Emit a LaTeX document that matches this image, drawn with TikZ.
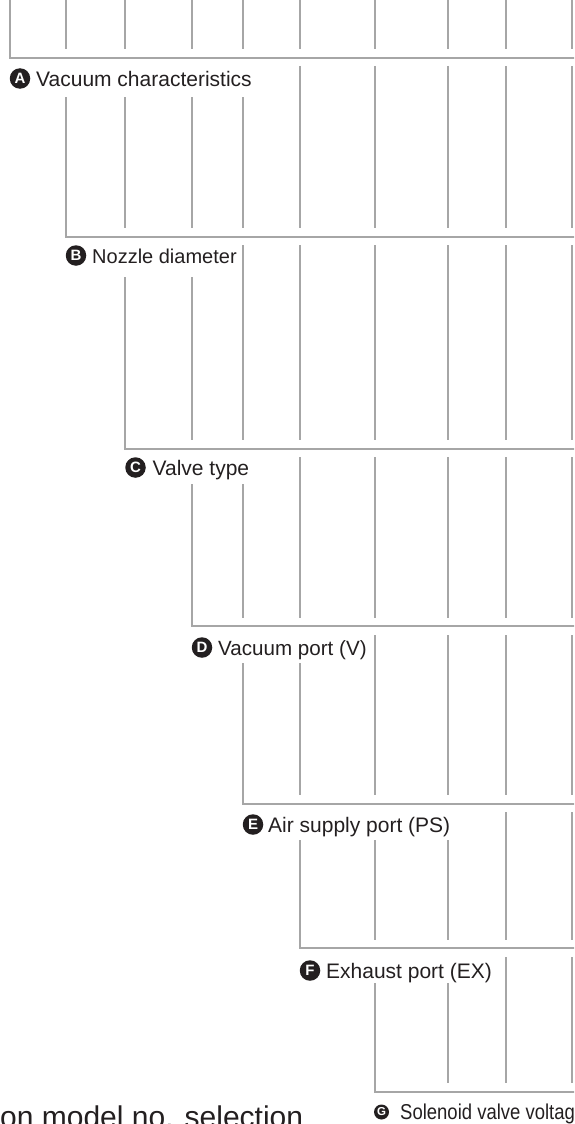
\documentclass[tikz,border=0pt]{standalone}
\usepackage{fontspec}
\setmainfont{Liberation Sans}
\newfontfamily\narrowfont[FakeStretch=0.86]{Liberation Sans}
\definecolor{rule}{HTML}{A6A6A6}
\definecolor{ink}{HTML}{231F20}
\begin{document}
\begin{tikzpicture}[x=1pt,y=-1pt,
  rail/.style={draw=rule,line width=2.1pt},
  badge/.style={circle,fill=ink,inner sep=0pt,minimum size=20.5pt,text=white,
    font=\bfseries\fontsize{15}{15}\selectfont},
  smallbadge/.style={badge,minimum size=15pt,font=\bfseries\fontsize{11.5}{11.5}\selectfont},
  caption/.style={anchor=base west,inner sep=0pt,text=ink,
    font=\fontsize{21}{24}\selectfont}]
\useasboundingbox (0,0) rectangle (574,1124);
\clip (0,0) rectangle (574,1124);

% top rails
\foreach \x in {66,125,192,243,300,375,448,506,572}
  \draw[rail] (\x,0) -- (\x,49);
\draw[rail] (10,0) |- (576,58);

% below level A
\draw[rail] (66,97) |- (576,237);
\foreach \x in {125,192,243} \draw[rail] (\x,97) -- (\x,228);
\foreach \x in {300,375,448,506,572} \draw[rail] (\x,66) -- (\x,228);

% below level B
\draw[rail] (125,277) |- (576,449);
\foreach \x in {192} \draw[rail] (\x,277) -- (\x,440);
\foreach \x in {243,300,375,448,506,572} \draw[rail] (\x,245) -- (\x,440);

% below level C
\draw[rail] (192,484) |- (576,626);
\foreach \x in {243} \draw[rail] (\x,484) -- (\x,618);
\foreach \x in {300,375,448,506,572} \draw[rail] (\x,457) -- (\x,618);

% below level D
\draw[rail] (243,663) |- (576,804);
\foreach \x in {300} \draw[rail] (\x,663) -- (\x,795);
\foreach \x in {375,448,506,572} \draw[rail] (\x,635) -- (\x,795);

% below level E
\draw[rail] (300,840) |- (576,948);
\foreach \x in {375,448} \draw[rail] (\x,840) -- (\x,940);
\foreach \x in {506,572} \draw[rail] (\x,812) -- (\x,940);

% below level F
\draw[rail] (375,983) |- (576,1092);
\foreach \x in {448} \draw[rail] (\x,983) -- (\x,1083);
\foreach \x in {506,572} \draw[rail] (\x,957) -- (\x,1083);

% level captions
\node[badge] (bA) at (20,78.5) {A};
\node[caption] (tA) at (36,86) {Vacuum characteristics};
\node[badge] (bB) at (76,255.5) {B};
\node[caption,font=\fontsize{20}{24}\selectfont] (tB) at (92,263) {Nozzle diameter};
\node[badge] (bC) at (135.5,467.5) {C};
\node[caption] (tC) at (152.5,475) {Valve type};
\node[badge] (bD) at (202,647.5) {D};
\node[caption,font=\fontsize{20.6}{24}\selectfont] (tD) at (218,655) {Vacuum port (V)};
\node[badge] (bE) at (253,824.5) {E};
\node[caption] (tE) at (268,832) {Air supply port (PS)};
\node[badge] (bF) at (310,970.5) {F};
\node[caption] (tF) at (326,978) {Exhaust port (EX)};
\node[smallbadge] (bG) at (381.5,1112) {G};
\node[caption,font=\narrowfont\fontsize{21.5}{24}\selectfont] (tG) at (400,1119) {Solenoid valve voltage};

% heading running off the lower edge
\node[anchor=base west,inner sep=0pt,text=ink,font=\fontsize{30}{34}\selectfont]
  (head) at (0,1127) {on model no. selection};
\end{tikzpicture}
\end{document}
